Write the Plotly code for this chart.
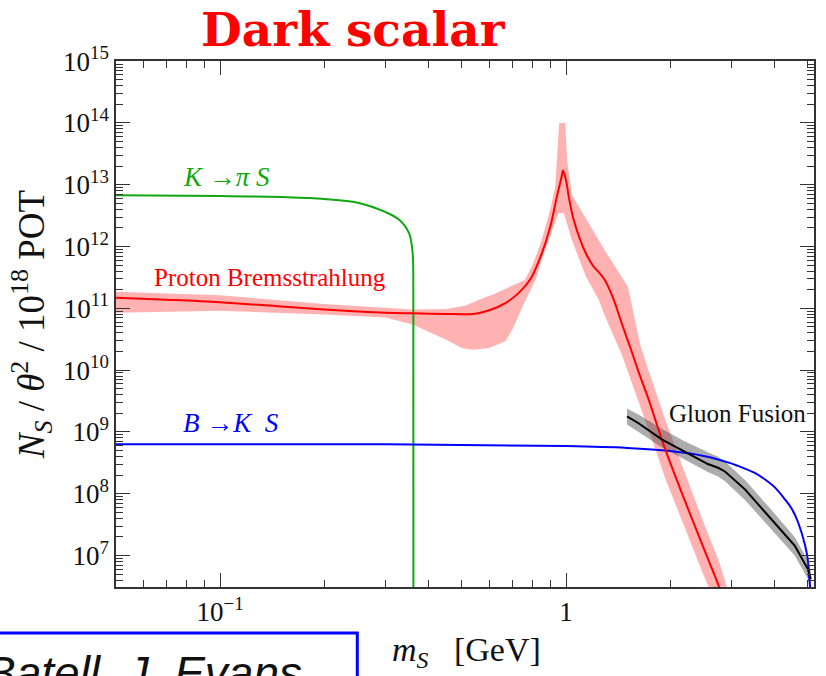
import plotly.graph_objects as go
import numpy as np

# ---------------- data (y values given as log10 exponents) ----------------
# K -> pi S
kpi_x = [0.05, 0.1, 0.15, 0.2, 0.25, 0.3, 0.33, 0.352, 0.36, 0.3618, 0.362]
kpi_exp = [12.83, 12.82, 12.80, 12.77, 12.71, 12.56, 12.43, 12.21, 11.9, 11.3, 6.0]

# B -> K S
bks_x = [0.05, 0.3, 1.0, 1.5, 2.0, 2.5, 3.0, 3.14, 3.5, 3.76, 4.0, 4.29, 4.5, 4.69, 4.91, 5.0, 5.04, 5.07, 5.09]
bks_exp = [8.80, 8.80, 8.77, 8.74, 8.69, 8.61, 8.49, 8.45, 8.34, 8.23, 8.11, 7.91, 7.75, 7.53, 7.16, 6.92, 6.68, 6.5, 6.3]

# Proton bremsstrahlung central curve
brems_x = [0.05, 0.07, 0.1, 0.15, 0.2, 0.25, 0.3, 0.36, 0.45, 0.54, 0.6, 0.67, 0.73, 0.79,
           0.85, 0.9, 0.94, 0.97, 0.98, 1.0, 1.02, 1.05, 1.1, 1.15, 1.2, 1.25, 1.3, 1.373,
           1.45, 1.541, 1.63, 1.731, 1.83, 1.934, 2.2, 2.51, 2.77, 2.9]
brems_exp = [11.17, 11.14, 11.10, 11.03, 10.98, 10.95, 10.93, 10.92, 10.91, 10.91, 10.97, 11.09, 11.25, 11.48,
             11.88, 12.32, 12.80, 13.12, 13.23, 13.07, 12.78, 12.45, 12.10, 11.85, 11.68, 11.57, 11.44, 11.14,
             10.75, 10.33, 9.93, 9.53, 9.12, 8.72, 7.90, 7.09, 6.49, 6.15]

# Proton bremsstrahlung uncertainty band
brems_up_x = [0.05, 0.1, 0.2, 0.3, 0.36, 0.45, 0.51, 0.56, 0.63, 0.70, 0.76, 0.8, 0.85, 0.9, 0.93,
              0.955, 0.995, 1.007, 1.04, 1.14, 1.30, 1.51, 1.58, 1.64, 1.73, 1.83, 1.934, 2.2, 2.51, 2.77, 2.95]
brems_up_exp = [11.27, 11.21, 11.07, 11.00, 10.98, 10.99, 11.04, 11.14, 11.25, 11.37, 11.46, 11.70, 12.10, 12.60, 12.96,
                14.0, 14.0, 13.40, 12.84, 12.46, 11.92, 11.35, 10.80, 10.40, 10.0, 9.6, 9.2, 8.35, 7.5, 6.9, 6.4]
brems_lo_x = [0.05, 0.1, 0.2, 0.3, 0.36, 0.45, 0.50, 0.536, 0.60, 0.669, 0.70, 0.764, 0.816, 0.85, 0.95,
              0.985, 1.04, 1.14, 1.242, 1.3, 1.373, 1.45, 1.541, 1.63, 1.731, 1.83, 1.934, 2.2, 2.51, 2.77, 2.95]
brems_lo_exp = [10.93, 10.96, 10.90, 10.85, 10.74, 10.49, 10.36, 10.33, 10.36, 10.47, 10.66, 11.14, 11.46, 11.78, 12.54,
                12.54, 12.10, 11.52, 11.14, 10.85, 10.55, 10.25, 9.83, 9.43, 9.03, 8.65, 8.25, 7.45, 6.65, 6.1, 5.8]

# Gluon fusion
gf_x = [1.50, 1.62, 1.89, 2.2, 2.57, 2.75, 2.88, 3.29, 3.92, 4.58, 5.0, 5.1]
gf_exp = [9.25, 9.14, 8.88, 8.68, 8.48, 8.42, 8.36, 8.07, 7.58, 7.16, 6.78, 6.62]
gf_up_exp = [9.38, 9.28, 9.05, 8.85, 8.67, 8.60, 8.52, 8.22, 7.74, 7.30, 6.92, 6.76]
gf_lo_exp = [9.12, 9.00, 8.75, 8.55, 8.35, 8.28, 8.20, 7.90, 7.42, 7.00, 6.62, 6.46]

# tick labels
x_tickvals = [0.1, 1]
x_ticktext = ["10<sup>\u22121</sup>", "1"]
y_tick_exps = [7, 8, 9, 10, 11, 12, 13, 14, 15]

# ---------------- figure ----------------
W, H = 826, 676
L, R, T, B = 116, 10, 61, 89
PW, PH = W - L - R, H - T - B


def px(xp):
    return (xp - L) / PW


def py(yp):
    return (H - B - yp) / PH


def v(e):
    return list(10 ** np.array(e, dtype=float))


serif = "Liberation Serif, Times New Roman, serif"

fig = go.Figure()

# bands
fig.add_trace(go.Scatter(
    x=brems_up_x + brems_lo_x[::-1], y=v(brems_up_exp) + v(brems_lo_exp)[::-1],
    fill="toself", fillcolor="rgba(255,0,0,0.30)", line=dict(width=0), mode="lines",
    hoverinfo="skip", showlegend=False))
fig.add_trace(go.Scatter(
    x=gf_x + gf_x[::-1], y=v(gf_up_exp) + v(gf_lo_exp)[::-1],
    fill="toself", fillcolor="rgba(70,70,70,0.45)", line=dict(width=0), mode="lines",
    hoverinfo="skip", showlegend=False))

# lines
fig.add_trace(go.Scatter(x=kpi_x, y=v(kpi_exp), mode="lines", line_shape="spline",
                         line=dict(color="#10a810", width=2), showlegend=False))
fig.add_trace(go.Scatter(x=bks_x, y=v(bks_exp), mode="lines",
                         line=dict(color="#0000ff", width=2), line_shape="spline", showlegend=False))
fig.add_trace(go.Scatter(x=brems_x, y=v(brems_exp), mode="lines",
                         line=dict(color="#ff0000", width=2), line_shape="spline", showlegend=False))
fig.add_trace(go.Scatter(x=gf_x, y=v(gf_exp), mode="lines",
                         line=dict(color="#000000", width=2), showlegend=False))

x_minor = [k * 0.01 for k in range(5, 10)] + [k * 0.1 for k in range(2, 10)] + [2, 3, 4, 5]
y_minor = [k * 10.0 ** e for e in range(6, 15) for k in range(2, 10)]

axis_common = dict(
    type="log", showgrid=False, zeroline=False, showline=True, linecolor="#333333",
    linewidth=1.5, mirror="allticks", ticks="inside", ticklen=14, tickwidth=1.3,
    tickcolor="#333333", tickfont=dict(family=serif, size=27, color="#111111"),
)

fig.update_layout(
    width=W, height=H,
    margin=dict(l=L, r=R, t=T, b=B),
    paper_bgcolor="white", plot_bgcolor="white",
    xaxis=dict(range=[np.log10(0.05), 0.7167], tickvals=x_tickvals, ticktext=x_ticktext,
               minor=dict(tickvals=x_minor, ticks="inside", ticklen=7, tickwidth=1.2, tickcolor="#333333"),
               **axis_common),
    yaxis=dict(range=[6.49, 15.003], tickvals=[10.0 ** e for e in y_tick_exps],
               ticktext=["10<sup>%d</sup>" % e for e in y_tick_exps],
               minor=dict(tickvals=y_minor, ticks="inside", ticklen=7, tickwidth=1.2, tickcolor="#333333"),
               **axis_common),
)


def label(text, xp, yp, size, color, family=serif, **kw):
    d = dict(text=text, x=px(xp), y=py(yp), xref="paper", yref="paper", showarrow=False,
             xanchor="center", yanchor="middle", font=dict(family=family, size=size, color=color))
    d.update(kw)
    return d


ann = [
    label("<b>Dark scalar</b>", 354, 30, 47, "#ff0000", family="DejaVu Serif, serif"),
    label("<i>N</i><sub><i>S</i></sub> / <i>\u03b8</i><sup>2</sup> / 10<sup>18</sup> POT", 31, 325, 37,
          "#111111", textangle=-90),
    label("<i>m</i><sub><i>S</i></sub>   [GeV]", 468, 652, 34, "#111111"),
    label("<i>K</i> \u2192<i>\u03c0 S</i>", 227, 177, 27, "#10a810"),
    label("Proton Bremsstrahlung", 270, 277, 25, "#ff0000"),
    label("<i>B</i> \u2192<i>K  S</i>", 231, 423, 27, "#0000ff"),
    label("Gluon Fusion", 739, 413, 25, "#111111"),
    label("<i>Batell, J. Evans</i>", -17, 673, 46, "#111111",
          family="Liberation Sans, Arial, sans-serif", xanchor="left"),
]
fig.update_layout(annotations=ann)

fig.add_shape(type="rect", xref="paper", yref="paper", x0=px(-20), x1=px(358), y0=py(720), y1=py(633),
              line=dict(color="#0000ff", width=3), fillcolor="rgba(0,0,0,0)")

fig.write_html("out.html")
